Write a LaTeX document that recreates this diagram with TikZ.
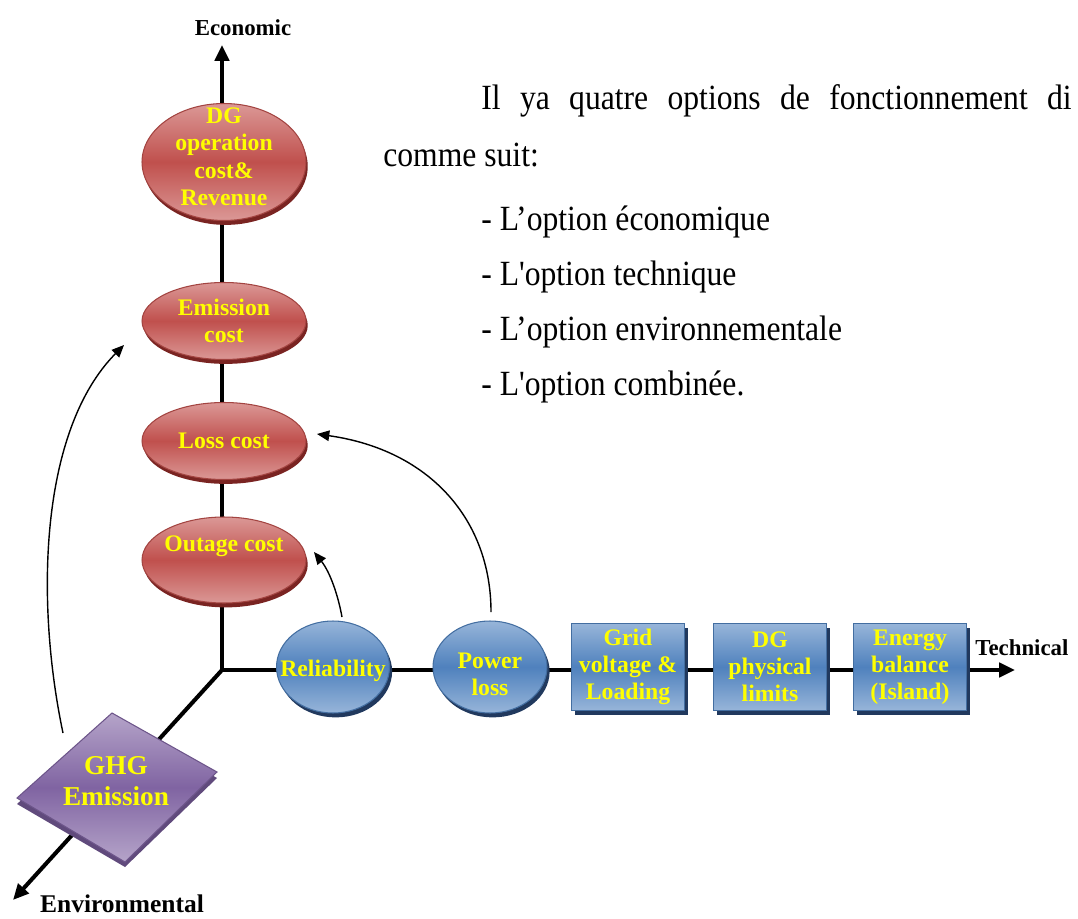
\documentclass[tikz,border=0pt]{standalone}
\usepackage{fontspec}
\setmainfont{Liberation Serif}
\usetikzlibrary{arrows.meta,positioning,shapes.geometric,shadows,backgrounds}
\definecolor{costc}{RGB}{192,80,77}
\definecolor{costl}{RGB}{219,152,150}
\definecolor{costd}{RGB}{122,36,34}
\definecolor{techc}{RGB}{79,129,189}
\definecolor{techl}{RGB}{151,181,217}
\definecolor{techd}{RGB}{33,57,94}
\definecolor{envc}{RGB}{128,100,162}
\definecolor{envl}{RGB}{181,164,201}
\definecolor{envd}{RGB}{96,74,124}
\definecolor{lblc}{RGB}{255,255,0}
\newcommand{\tallline}[1]{\scalebox{1}[1.12]{#1}}

\begin{document}
\begin{tikzpicture}[x=0.02cm, y=-0.02cm,
  axisarrow/.style={line width=2.3pt, -{Triangle[length=9pt,width=8pt]}},
  linkarrow/.style={line width=0.8pt, -{Triangle[length=7pt,width=6pt]}},
  lbl/.style={text=lblc, font=\bfseries\fontsize{13.5}{15.5}\selectfont, align=center, inner sep=0pt},
  axislbl/.style={font=\bfseries\fontsize{13}{15}\selectfont, inner sep=0pt},
  bodytxt/.style={font=\fontsize{18}{22}\selectfont, inner sep=0pt, anchor=base west},
  costell/.style={ellipse, draw=costc!85!black, line width=0.6pt,
    top color=costl, bottom color=costl, middle color=costc, minimum width=3.28cm,
    drop shadow={shadow xshift=1pt, shadow yshift=-2.5pt, fill=costd, opacity=1}},
  techell/.style={ellipse, draw=techc!85!black, line width=0.6pt,
    top color=techl, bottom color=techl, middle color=techc, minimum height=1.84cm,
    drop shadow={shadow xshift=1.5pt, shadow yshift=-2.5pt, fill=techd, opacity=1}},
  techbox/.style={rectangle, draw=techc!85!black, line width=0.6pt,
    top color=techl, bottom color=techl, middle color=techc,
    minimum width=2.26cm, minimum height=1.74cm,
    drop shadow={shadow xshift=2pt, shadow yshift=-2.5pt, fill=techd, opacity=1}}]
  \useasboundingbox (0,0) rectangle (1078,919);

  % axes
  \coordinate (o) at (222,670);
  \coordinate (econ) at (222,45);
  \coordinate (tech) at (1015,670);
  \coordinate (env) at (13,900);

  % economic side
  \node[costell, minimum height=2.34cm, label={[lbl, yshift=3pt]center:DG\\operation\\cost\&\\Revenue}] (dgcost) at (224,162) {};
  \node[costell, minimum height=1.54cm, label={[lbl]center:Emission\\cost}] (emicost) at (224,321) {};
  \node[costell, minimum height=1.54cm, label={[lbl]center:Loss cost}] (losscost) at (224,441) {};
  \node[costell, minimum height=1.72cm, label={[lbl, yshift=8pt]center:Outage cost}] (outcost) at (224,560) {};

  % technical side
  \node[techell, minimum width=2.26cm, label={[lbl, yshift=-2pt]center:Reliability}] (relia) at (333,667) {};
  \node[techell, minimum width=2.28cm, label={[lbl, yshift=-4pt]center:Power\\loss}] (ploss) at (490,667) {};
  \node[techbox, label={[lbl]center:Grid\\voltage \&\\Loading}] (gridv) at (628,667) {};
  \node[techbox, label={[lbl]center:DG\\physical\\limits}] (dglim) at (770,667) {};
  \node[techbox, label={[lbl]center:Energy\\balance\\(Island)}] (enbal) at (910,667) {};

  % environmental side
  \fill[envd] (112,719) -- (217,778) -- (125,867) -- (17,804) -- cycle;
  \path[draw=envc!85!black, line width=0.6pt, top color=envl, bottom color=envl, middle color=envc]
    (112,713) -- (217,772) -- (125,862) -- (17,798) -- cycle;
  \node[lbl, font=\bfseries\fontsize{15.5}{17.5}\selectfont] (ghg) at (116,781) {GHG\\Emission};

  \begin{scope}[on background layer]
    \draw[axisarrow] (o) -- (econ);
    \draw[axisarrow] (o) -- (tech);
    \draw[axisarrow] (o) -- (env);
  \end{scope}

  \node[axislbl] (econlbl) at (243,28) {Economic};
  \node[axislbl, anchor=west] (techlbl) at (975,648) {Technical};
  \node[axislbl, font=\bfseries\fontsize{14.5}{16}\selectfont] (envlbl) at (122,904) {Environmental};

  % links between the options
  \coordinate (ghgtop) at (63,733);
  \coordinate (emitip) at (124,345);
  \draw[linkarrow] (ghgtop) .. controls (35,600) and (40,430) .. (emitip);
  \coordinate (plosstop) at (491,612);
  \coordinate (losstip) at (317,434);
  \draw[linkarrow] (plosstop) .. controls (491,520) and (430,450) .. (losstip);
  \coordinate (reliatop) at (342,617);
  \coordinate (outtip) at (314,552);
  \draw[linkarrow] (reliatop) .. controls (338,595) and (330,572) .. (outtip);

  % text of the page
  \node[bodytxt] (intro) at (481,110) {\tallline{\makebox[336pt][s]{Il ya quatre options de fonctionnement di}}};
  \node[bodytxt] (intro2) at (383,166) {\tallline{comme suit:}};
  \node[bodytxt] (opt1) at (481,230) {\tallline{- L’option économique}};
  \node[bodytxt] (opt2) at (481,285) {\tallline{- L\textquotesingle option technique}};
  \node[bodytxt] (opt3) at (481,340) {\tallline{- L’option environnementale}};
  \node[bodytxt] (opt4) at (481,395) {\tallline{- L\textquotesingle option combinée.}};
\end{tikzpicture}
\end{document}
